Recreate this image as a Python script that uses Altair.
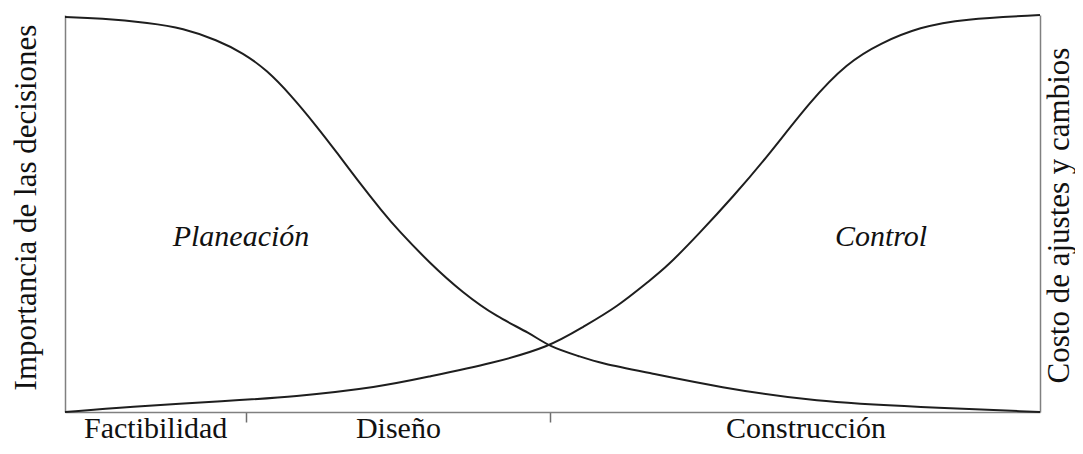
import altair as alt
import pandas as pd

# Planeación curve (importance of decisions), x in % of project duration, y in % of scale
plan_x = [0, 3.6, 8.7, 12.1, 15.6, 18.3, 20.7, 23.1, 25.8, 27.9, 29.9, 32.6, 34.1, 37.4,
          40.8, 44.3, 47.7, 49.7, 52.8, 54.9, 60.0, 66.9, 77.1, 87.4, 100]
plan_y = [99.5, 99.2, 98.0, 96.7, 93.7, 90.4, 86.1, 80.0, 72.0, 65.3, 58.7, 50.3, 46.0, 37.5,
          30.0, 23.9, 19.9, 16.4, 14.0, 12.3, 9.8, 6.3, 2.5, 1.3, 0]

# Control curve (cost of adjustments and changes)
ctrl_x = [0, 6.4, 16.6, 23.4, 32.3, 37.1, 43.9, 49.7, 53.1, 56.6, 60.0, 61.7, 65.1, 68.5,
          72.0, 76.5, 80.2, 83.6, 87.7, 92.1, 100]
ctrl_y = [0, 1.3, 2.8, 3.8, 6.3, 8.8, 12.3, 16.4, 21.4, 26.4, 33.2, 36.5, 45.1, 54.2,
          64.2, 78.5, 87.9, 92.9, 97.0, 99.0, 100]

phase_names = ["Factibilidad", "Diseño", "Construcción"]
phase_label_x = [9.3, 34.2, 76.0]
phase_ticks = [18.56, 49.74]

curve_names = ["Planeación", "Control"]
curve_label_x = [18.05, 83.7]
curve_label_y = [44.1, 44.1]

FONT = "Liberation Serif"
W, H = 975, 397

df_plan = pd.DataFrame({"x": plan_x, "y": plan_y})
df_ctrl = pd.DataFrame({"x": ctrl_x, "y": ctrl_y})
df_phase = pd.DataFrame({"x": phase_label_x, "name": phase_names})
df_curve = pd.DataFrame({"x": curve_label_x, "y": curve_label_y, "name": curve_names})

xscale = alt.Scale(domain=[0, 100], nice=False, zero=False)
yscale = alt.Scale(domain=[0, 100], nice=False, zero=False)

x_axis = alt.Axis(values=phase_ticks, labels=False, ticks=True, tickSize=10,
                  tickColor="#6e6e6e", tickWidth=1.5, domainColor="#808080",
                  domainWidth=1.5, grid=False, title=None)

plan = alt.Chart(df_plan).mark_line(color="#1e1e1e", strokeWidth=2, interpolate="basis").encode(
    x=alt.X("x:Q", scale=xscale, axis=x_axis),
    y=alt.Y("y:Q", scale=yscale,
            axis=alt.Axis(orient="left", labels=False, ticks=False, grid=False,
                          domainColor="#808080", domainWidth=1.5,
                          title="Importancia de las decisiones", titleFont=FONT,
                          titleFontSize=31, titleFontWeight="normal", titleColor="#111111",
                          titleAngle=270, titleX=-39, titleY=192,
                          titleBaseline="middle", titleAlign="center")),
)

ctrl = alt.Chart(df_ctrl).mark_line(color="#1e1e1e", strokeWidth=2, interpolate="basis").encode(
    x=alt.X("x:Q", scale=xscale, axis=x_axis),
    y=alt.Y("y:Q", scale=yscale,
            axis=alt.Axis(orient="right", labels=False, ticks=False, grid=False,
                          domainColor="#808080", domainWidth=1.5,
                          title="Costo de ajustes y cambios", titleFont=FONT,
                          titleFontSize=31, titleFontWeight="normal", titleColor="#111111",
                          titleAngle=270, titleX=19, titleY=200,
                          titleBaseline="middle", titleAlign="center")),
)

curve_text = alt.Chart(df_curve).mark_text(font=FONT, fontSize=30, fontStyle="italic",
                                           color="#111111", align="center", baseline="middle").encode(
    x=alt.X("x:Q", scale=xscale, axis=x_axis),
    y=alt.Y("y:Q", scale=yscale, axis=None),
    text="name:N",
)

phase_text = alt.Chart(df_phase).mark_text(font=FONT, fontSize=30, color="#111111",
                                           align="center", baseline="alphabetic").encode(
    x=alt.X("x:Q", scale=xscale, axis=x_axis),
    y=alt.value(H + 26),
    text="name:N",
)

chart = alt.layer(plan, ctrl, curve_text, phase_text).resolve_scale(
    y="independent"
).properties(
    width=W, height=H,
    autosize=alt.AutoSizeParams(type="none"),
    padding={"left": 57, "top": 7, "right": 35, "bottom": 34},
).configure(background="white").configure_view(stroke=None)

chart.save("out.html", embed_options={"renderer": "svg", "actions": False})
